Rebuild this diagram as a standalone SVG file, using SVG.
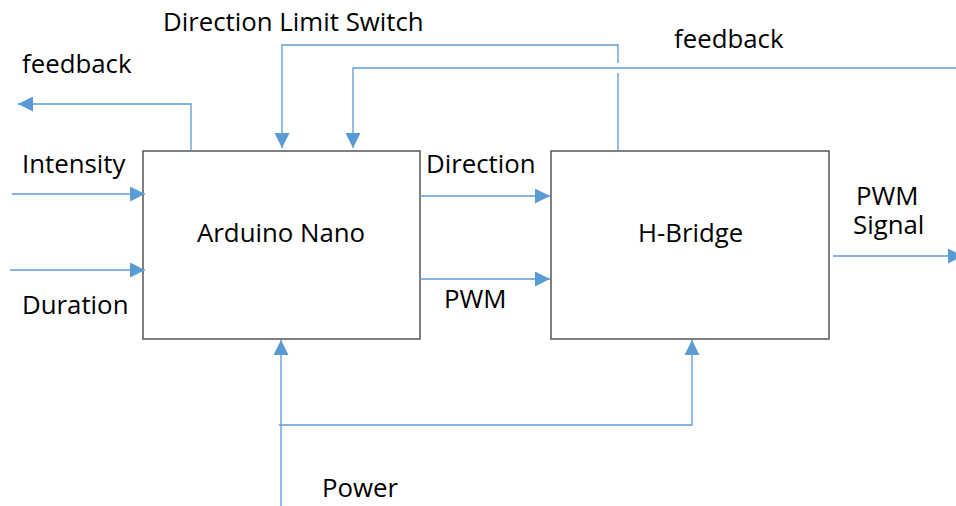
<svg xmlns="http://www.w3.org/2000/svg" width="956" height="506" viewBox="0 0 956 506">
<defs>
<style>
.box{fill:#fff;stroke:#555;stroke-width:1.5}
.lbl{font-family:"Open Sans","Noto Sans","Liberation Sans",sans-serif;font-size:25.8px;fill:#000}
.ln{fill:none;stroke:#5B9BD5;stroke-width:1.3;marker-end:url(#ah)}
</style>
<marker id="ah" markerUnits="userSpaceOnUse" markerWidth="15" markerHeight="15" refX="15" refY="7.5" orient="auto" viewBox="0 0 15 15">
<path d="M0,0 L15,7.5 L0,15 Z" fill="#5B9BD5"/>
</marker>
</defs>
<rect width="956" height="506" fill="#fff"/>
<g id="arduino">
<rect class="box" x="143" y="151" width="277" height="188"/>
<text class="lbl" x="197" y="242">Arduino Nano</text>
</g>
<g id="hbridge">
<rect class="box" x="551" y="151" width="278" height="188"/>
<text class="lbl" x="638" y="242">H-Bridge</text>
</g>
<g id="connectors">
<path class="ln" d="M191,151 V104 H18"/>
<path class="ln" d="M618,151 V73 M618,63 V45 H282 V148"/>
<path class="ln" d="M956,68 H353 V148"/>
<path class="ln" d="M12,194 H145"/>
<path class="ln" d="M10,270 H145"/>
<path class="ln" d="M420,196 H550"/>
<path class="ln" d="M420,279 H550"/>
<path class="ln" d="M833,256 H963"/>
<path class="ln" d="M281,506 V340"/>
<path class="ln" d="M279,425 H692 V340"/>
</g>
<g id="labels">
<text class="lbl" x="163" y="31">Direction Limit Switch</text>
<text class="lbl" x="22" y="73">feedback</text>
<text class="lbl" x="674" y="48">feedback</text>
<text class="lbl" x="22" y="173">Intensity</text>
<text class="lbl" x="22" y="314">Duration</text>
<text class="lbl" x="426" y="173">Direction</text>
<text class="lbl" x="444" y="308">PWM</text>
<text class="lbl"><tspan x="856" y="205">PWM</tspan><tspan x="853" y="234">Signal</tspan></text>
<text class="lbl" x="322" y="497">Power</text>
</g>
</svg>
